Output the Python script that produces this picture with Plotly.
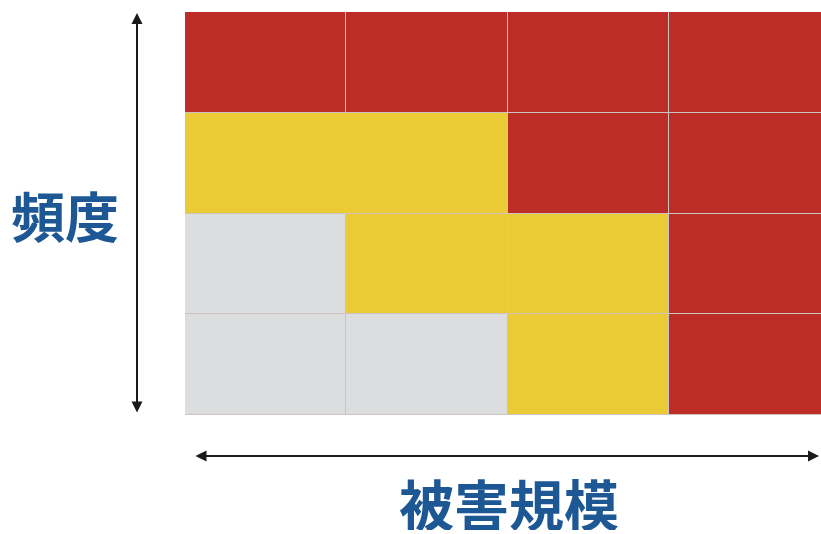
import plotly.graph_objects as go

# Risk matrix: columns = damage scale (small -> large), rows = frequency (low -> high)
severity_levels = [1, 2, 3, 4]
frequency_levels = [1, 2, 3, 4]
# 0 = low (gray), 1 = medium (yellow), 2 = high (red); rows listed from low frequency upward
risk_rows = [
    [0, 0, 1, 2],
    [0, 1, 1, 2],
    [1, 1, 2, 2],
    [2, 2, 2, 2],
]
risk_colors = ["#DCDDDF", "#EACB36", "#BB2D26"]

x_label = "被害規模"
y_label = "頻度"
label_color = "#1D5894"

W, H = 821, 534
left, top, bottom_px = 185, 12, 415
plot_w = W - left
plot_h = bottom_px - top

colorscale = [
    [0.0, risk_colors[0]], [1 / 3, risk_colors[0]],
    [1 / 3, risk_colors[1]], [2 / 3, risk_colors[1]],
    [2 / 3, risk_colors[2]], [1.0, risk_colors[2]],
]

fig = go.Figure(
    go.Heatmap(
        x=severity_levels,
        y=frequency_levels,
        z=risk_rows,
        zmin=-0.5,
        zmax=2.5,
        colorscale=colorscale,
        showscale=False,
        xgap=1,
        ygap=1,
        hoverinfo="skip",
    )
)

cell_w = 161.3
fig.update_xaxes(range=[0.5, 0.5 + plot_w / cell_w], visible=False, fixedrange=True)
fig.update_yaxes(range=[0.5, 4.5], visible=False, fixedrange=True)


def px_to_paper_x(px):
    return (px - left) / plot_w


def px_to_paper_y(py):
    return (bottom_px - py) / plot_h


arrow_style = dict(
    showarrow=True, arrowhead=2, startarrowhead=2, arrowside="end+start",
    arrowwidth=2, arrowsize=1.1, startarrowsize=1.1, arrowcolor="#1a1a1a",
    axref="pixel", ayref="pixel", text="",
    xref="paper", yref="paper",
)

annotations = [
    # vertical frequency arrow
    dict(x=px_to_paper_x(137), y=px_to_paper_y(13), ax=0, ay=401, **arrow_style),
    # horizontal damage-scale arrow
    dict(x=px_to_paper_x(819), y=px_to_paper_y(456), ax=-625, ay=0, **arrow_style),
    dict(
        x=px_to_paper_x(65), y=px_to_paper_y(214), xref="paper", yref="paper",
        text=f"<b>{y_label}</b>", showarrow=False,
        font=dict(family="Noto Sans CJK JP", size=54, color=label_color),
        xanchor="center", yanchor="middle",
    ),
    dict(
        x=px_to_paper_x(509), y=px_to_paper_y(502), xref="paper", yref="paper",
        text=f"<b>{x_label}</b>", showarrow=False, height=56,
        font=dict(family="Noto Sans CJK JP", size=55, color=label_color),
        xanchor="center", yanchor="middle",
    ),
]

fig.update_layout(
    width=W,
    height=H,
    margin=dict(l=left, r=0, t=top, b=H - bottom_px, pad=0),
    paper_bgcolor="white",
    plot_bgcolor="#CFC3C1",
    annotations=annotations,
    showlegend=False,
)

fig.write_html("out.html", config={"displayModeBar": False})
